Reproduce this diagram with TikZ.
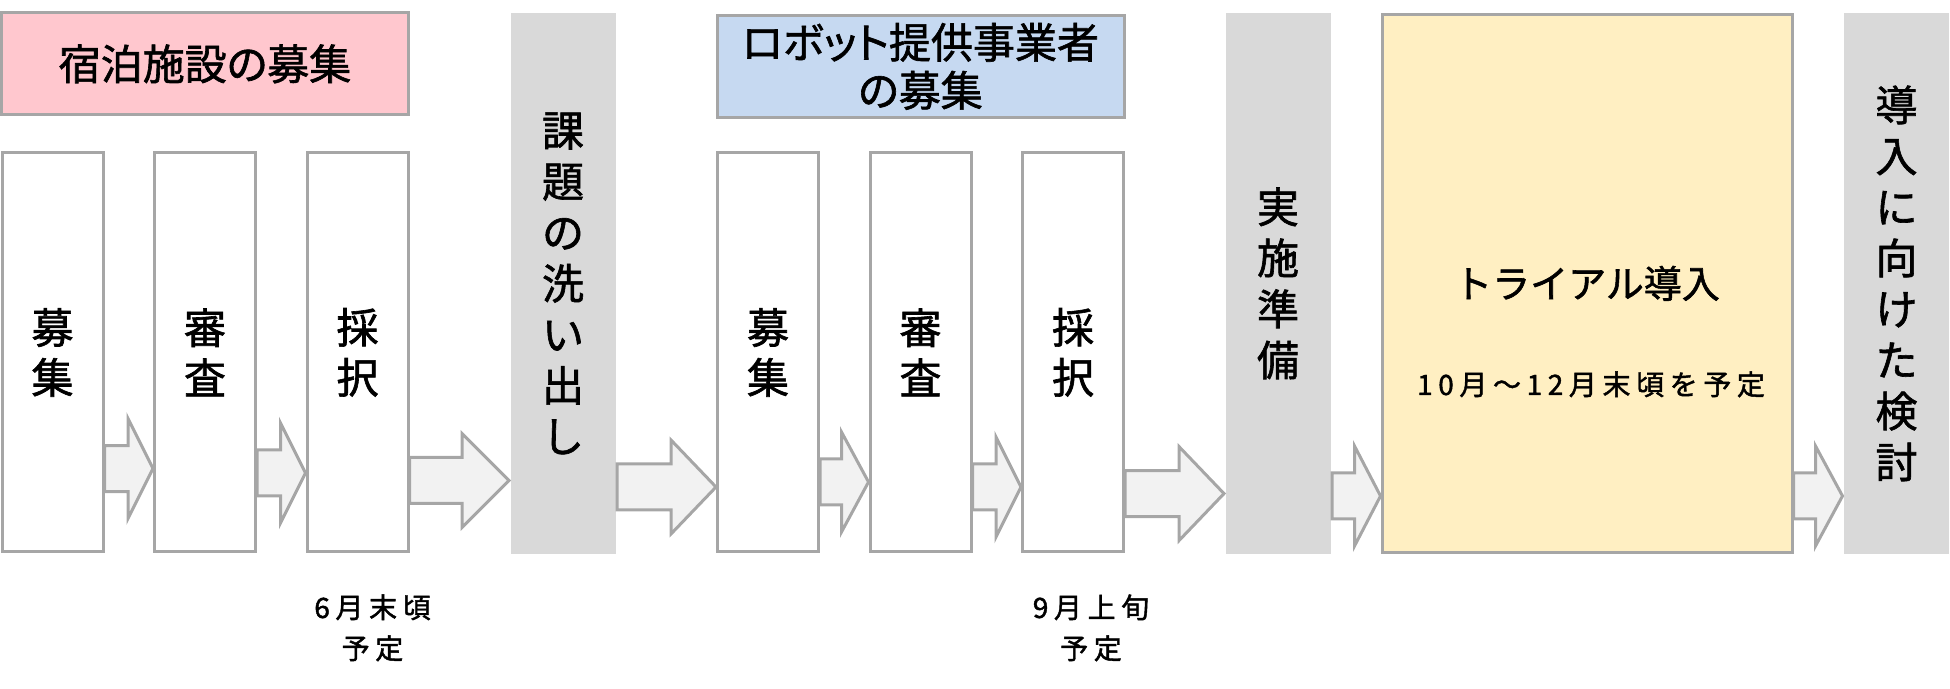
\documentclass[tikz,border=0pt]{standalone}
\usepackage{fontspec}
\setmainfont{Noto Sans CJK JP}[FakeBold=1.5]
\usetikzlibrary{
  calc,
  positioning
}

\definecolor{pinkfill}{HTML}{FFC7CE}
\definecolor{bluefill}{HTML}{C6D9F1}
\definecolor{yellowfill}{HTML}{FFEFC2}
\definecolor{phasegray}{HTML}{D9D9D9}
\definecolor{edgegray}{HTML}{A6A6A6}
\definecolor{arrowfill}{HTML}{F2F2F2}

\begin{document}
\begin{tikzpicture}[
            x=1pt, y=1pt,
            node distance=152.5pt,
            line width=3pt,
            font=\fontsize{42}{50}\selectfont,
            % larghezze fisse, come nel riferimento
            heading/.style={rectangle, draw=edgegray, minimum width=407pt, minimum height=102pt, inner sep=0pt, align=center, font=\fontsize{42}{48}\selectfont\addfontfeatures{RawFeature=+palt}},
            stage/.style={rectangle, draw=edgegray, fill=white, minimum width=101pt, minimum height=399pt, inner sep=0pt, align=center},
            phase/.style={rectangle, fill=phasegray, minimum width=105pt, minimum height=541pt, inner sep=0pt, align=center, font=\fontsize{42}{51}\selectfont},
            trial/.style={rectangle, draw=edgegray, fill=yellowfill, minimum width=410pt, minimum height=538pt, inner sep=0pt, font=\fontsize{38}{44}\selectfont},
            note/.style={align=center, inner sep=0pt, font=\fontsize{28}{41}\selectfont\addfontfeatures{LetterSpace=20}},
            fatarrow/.style={draw=edgegray, fill=arrowfill, line width=3pt}
        ]
        \useasboundingbox (0,0) rectangle (1950,688);

        % Nodi
        \node (hotel_a) [stage] at (52.5,335.6) {募\\集};
        \node (hotel_b) [stage, right of=hotel_a] {審\\査};
        \node (hotel_c) [stage, right of=hotel_b] {採\\択};
        \node (issues) [phase, right of=hotel_c, xshift=53pt, yshift=69pt] {課\\題\\の\\洗\\い\\出\\し};

        \node (robot_a) [stage, right of=issues, xshift=52.5pt, yshift=-69pt] {募\\集};
        \node (robot_b) [stage, right of=robot_a] {審\\査};
        \node (robot_c) [stage, right of=robot_b] {採\\択};
        \node (prep) [phase, right of=robot_c, xshift=52.5pt, yshift=69pt] {実\\施\\準\\備};

        \node (trial) [trial, right of=prep, xshift=156.5pt] {トライアル導入};
        \node (review) [phase, right of=trial, xshift=157pt] {導\\入\\に\\向\\け\\た\\検\\討};

        % Intestazioni sopra i gruppi
        \node (hotel_head) [heading, fill=pinkfill, above of=hotel_b, yshift=136pt] {宿泊施設の募集};
        \node (robot_head) [heading, fill=bluefill, above of=robot_b, yshift=133.5pt] {ロボット提供事業者\\の募集};

        % Date
        \node (hotel_date) [note, below of=hotel_c, xshift=15pt, yshift=-123pt] {6月末頃\\予定};
        \node (robot_date) [note, below of=robot_c, xshift=18pt, yshift=-123pt] {9月上旬\\予定};
        \node (trial_date) [note, below of=trial, xshift=4pt, yshift=51.5pt] {10月～12月末頃を予定};

        % Frecce a blocco
        \foreach \src/\dst/\tip/\head/\wing in {hotel_a/hotel_b/219.4/25/50, hotel_b/hotel_c/215/25/50, hotel_c/issues/207.5/47/47, issues/robot_a/201/45/47, robot_a/robot_b/206/27/50, robot_b/robot_c/201/25/50, robot_c/prep/194.4/45/47, prep/trial/192/26/50, trial/review/192/27/50}
            \draw [fatarrow] let \p1=(\src.east), \p2=(\dst.west) in
                (\x1,\tip pt+23pt) -- (\x2-\head pt,\tip pt+23pt) -- (\x2-\head pt,\tip pt+\wing pt) -- (\x2,\tip pt)
                -- (\x2-\head pt,\tip pt-\wing pt) -- (\x2-\head pt,\tip pt-23pt) -- (\x1,\tip pt-23pt) -- cycle;

    \end{tikzpicture}
\end{document}
